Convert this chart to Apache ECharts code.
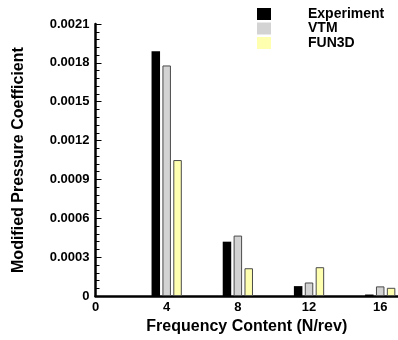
<!DOCTYPE html>
<html>
<head>
<meta charset="utf-8">
<script src="https://cdn.jsdelivr.net/npm/echarts@6/dist/echarts.min.js"></script>
<style>
  html, body { margin: 0; padding: 0; background: #fff; }
  #chart { width: 398px; height: 340px; }
</style>
</head>
<body>
<div id="chart"></div>
<script>
// Harmonic content of the modified pressure coefficient
const frequencies = [4, 8, 12, 16];
const experiment = [0.00189, 0.00042, 0.000077, 0.000012];
const vtm = [0.00178, 0.000467, 0.000105, 0.000075];
const fun3d = [0.00105, 0.000215, 0.000223, 0.000064];
const yTicks = [0, 0.0003, 0.0006, 0.0009, 0.0012, 0.0015, 0.0018, 0.0021];
const xTicks = [0, 4, 8, 12, 16];

const FONT = 'Liberation Sans, Arial, Helvetica, sans-serif';

const pairs = vals => frequencies.map((f, i) => [f, vals[i]]);

const barSeries = (name, vals, color, border) => ({
  name: name,
  type: 'bar',
  data: pairs(vals),
  barWidth: 8.5,
  barGap: '28%',
  itemStyle: {
    color: color,
    borderColor: border,
    borderWidth: border ? 1 : 0
  },
  emphasis: { disabled: true }
});

const chart = echarts.init(document.getElementById('chart'), null, { renderer: 'canvas' });

chart.setOption({
  animation: false,
  backgroundColor: '#ffffff',
  textStyle: { fontFamily: FONT },
  grid: { left: 95.5, top: 24, width: 306, height: 273, containLabel: false },
  legend: {
    orient: 'vertical',
    left: 257,
    top: 7,
    padding: 0,
    itemWidth: 14,
    itemHeight: 12,
    itemGap: 0.5,
    icon: 'rect',
    selectedMode: false,
    itemStyle: { borderWidth: 0 },
    textStyle: {
      fontFamily: FONT,
      fontWeight: 'bold',
      fontSize: 14,
      color: '#000',
      lineHeight: 12,
      height: 12,
      padding: [0, 0, 0, 32]
    },
    data: ['Experiment', 'VTM', 'FUN3D']
  },
  xAxis: {
    type: 'value',
    min: 0,
    max: 17,
    interval: 4,
    name: 'Frequency Content (N/rev)',
    nameLocation: 'middle',
    nameGap: 17,
    nameTextStyle: { fontFamily: FONT, fontWeight: 'bold', fontSize: 16, color: '#000' },
    axisLine: { show: true, onZero: false, lineStyle: { color: '#000', width: 2.5 } },
    axisTick: { show: false },
    splitLine: { show: false },
    axisLabel: {
      margin: 5,
      fontFamily: FONT,
      fontWeight: 'bold',
      fontSize: 13,
      color: '#000',
      showMaxLabel: false,
      formatter: v => (xTicks.indexOf(v) >= 0 ? String(v) : '')
    }
  },
  yAxis: {
    type: 'value',
    min: 0,
    max: 0.0021,
    interval: 0.0003,
    name: 'Modified Pressure Coefficient',
    nameLocation: 'middle',
    nameGap: 69,
    nameTextStyle: { fontFamily: FONT, fontWeight: 'bold', fontSize: 16, color: '#000' },
    axisLine: { show: true, lineStyle: { color: '#000', width: 2.5 } },
    axisTick: { show: true, inside: true, length: 6, lineStyle: { color: '#000', width: 1 } },
    minorTick: { show: true, splitNumber: 5, length: 4, lineStyle: { color: '#000', width: 1 } },
    splitLine: { show: false },
    axisLabel: {
      margin: 6,
      fontFamily: FONT,
      fontWeight: 'bold',
      fontSize: 13,
      color: '#000',
      formatter: v => {
        const t = yTicks.find(k => Math.abs(k - v) < 1e-9);
        if (t === undefined) return '';
        return t === 0 ? '0' : t.toFixed(4);
      }
    }
  },
  series: [
    barSeries('Experiment', experiment, '#000000', null),
    barSeries('VTM', vtm, '#d3d3d3', '#4a4a4a'),
    barSeries('FUN3D', fun3d, '#ffffb0', '#4a4a4a')
  ]
});
</script>
</body>
</html>
